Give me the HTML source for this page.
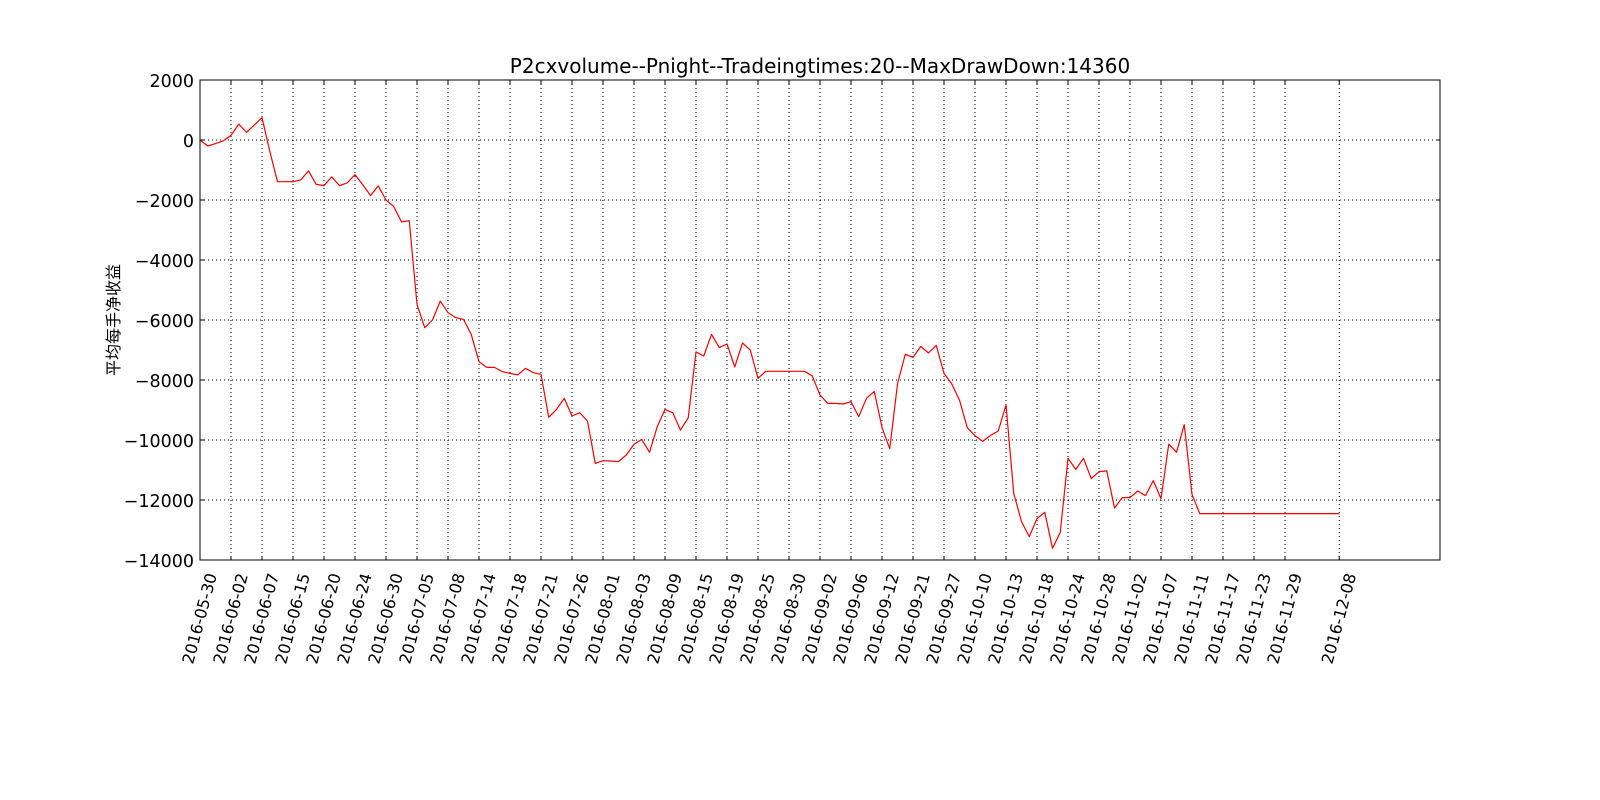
<!DOCTYPE html>
<html><head><meta charset="utf-8"><style>
html,body{margin:0;padding:0;background:#fff;}
svg{display:block;font-family:"DejaVu Sans","Liberation Sans","Noto Sans CJK SC",sans-serif;}
</style></head><body>
<svg id="chart" width="1600" height="800" viewBox="0 0 1600 800" xmlns="http://www.w3.org/2000/svg">
<rect width="1600" height="800" fill="#fff"/>
<g id="grid"></g>
<g id="series"></g>
<rect x="200" y="80" width="1240" height="480" fill="none" stroke="#000" stroke-width="1"/>
<g id="ticks"></g>
<text x="820" y="73" text-anchor="middle" font-size="20">P2cxvolume--Pnight--Tradeingtimes:20--MaxDrawDown:14360</text>
<text transform="translate(119,320) rotate(-90)" text-anchor="middle" font-size="16" font-family="'Noto Sans CJK SC',sans-serif">平均每手净收益</text>
</svg>
<script>
const values = [0,-200,-120,-30,155,530,255,500,745,-370,-1390,-1390,-1390,-1330,-1030,-1480,-1520,-1230,-1520,-1430,-1155,-1490,-1855,-1530,-2000,-2220,-2730,-2690,-5480,-6255,-6000,-5370,-5755,-5920,-5980,-6480,-7390,-7580,-7580,-7720,-7780,-7830,-7610,-7755,-7810,-9245,-8980,-8610,-9200,-9090,-9370,-10780,-10690,-10700,-10720,-10500,-10145,-9980,-10410,-9555,-8980,-9090,-9670,-9255,-7065,-7200,-6480,-6920,-6800,-7565,-6765,-7000,-7945,-7710,-7710,-7710,-7710,-7710,-7710,-7865,-8500,-8780,-8780,-8800,-8720,-9220,-8610,-8380,-9580,-10290,-8130,-7145,-7245,-6880,-7100,-6845,-7780,-8130,-8670,-9590,-9855,-10045,-9845,-9700,-8830,-11780,-12720,-13220,-12620,-12410,-13610,-13080,-10610,-10980,-10610,-11290,-11055,-11030,-12267,-11920,-11920,-11700,-11855,-11355,-11955,-10135,-10410,-9490,-11810,-12455,-12455,-12455,-12455,-12455,-12455,-12455,-12455,-12455,-12455,-12455,-12455,-12455,-12455,-12455,-12455,-12455,-12455,-12455];
const xTickIdx = [0,4,8,12,16,20,24,28,32,36,40,44,48,52,56,60,64,68,72,76,80,84,88,92,96,100,104,108,112,116,120,124,128,132,136,140,147];
const xTickLabels = ["2016-05-30","2016-06-02","2016-06-07","2016-06-15","2016-06-20","2016-06-24","2016-06-30","2016-07-05","2016-07-08","2016-07-14","2016-07-18","2016-07-21","2016-07-26","2016-08-01","2016-08-03","2016-08-09","2016-08-15","2016-08-19","2016-08-25","2016-08-30","2016-09-02","2016-09-06","2016-09-12","2016-09-21","2016-09-27","2016-10-10","2016-10-13","2016-10-18","2016-10-24","2016-10-28","2016-11-02","2016-11-07","2016-11-11","2016-11-17","2016-11-23","2016-11-29","2016-12-08"];
const yTicks = [2000,0,-2000,-4000,-6000,-8000,-10000,-12000,-14000];
const X0=200,X1=1440,Y0=80,Y1=560,XMIN=0,XMAX=160,YMIN=-14000,YMAX=2000;
function sx(i){return X0+(i-XMIN)/(XMAX-XMIN)*(X1-X0);}
function sy(v){return Y1-(v-YMIN)/(YMAX-YMIN)*(Y1-Y0);}
const NS="http://www.w3.org/2000/svg";
function mk(tag,attrs,parent){const e=document.createElementNS(NS,tag);for(const k in attrs)e.setAttribute(k,attrs[k]);parent.appendChild(e);return e;}
const grid=document.getElementById('grid'),ticks=document.getElementById('ticks'),series=document.getElementById('series');
xTickIdx.forEach((idx,k)=>{
  const x=sx(idx);
  const g=mk('line',{x1:x,y1:Y0,x2:x,y2:Y1,stroke:'#000','stroke-width':1,'stroke-dasharray':'1,3'},grid);
  
  
  const t1=mk('line',{x1:x,y1:Y1,x2:x,y2:Y1-4,stroke:'#000'},ticks);
  
  
  const t2=mk('line',{x1:x,y1:Y0,x2:x,y2:Y0+4,stroke:'#000'},ticks);
  
  
  const lb=mk('text',{transform:`translate(${x+17},${Y1+15}) rotate(-75)`,'text-anchor':'end','font-size':16},ticks);
  lb.textContent=xTickLabels[k];
  
  
});
yTicks.forEach(v=>{
  const y=sy(v);
  if(v!==YMAX&&v!==YMIN){
    const g=mk('line',{x1:X0,y1:y,x2:X1,y2:y,stroke:'#000','stroke-width':1,'stroke-dasharray':'1,3'},grid);
    
    
  }
  const t1=mk('line',{x1:X0,y1:y,x2:X0+4,y2:y,stroke:'#000'},ticks);
  
  
  const t2=mk('line',{x1:X1,y1:y,x2:X1-4,y2:y,stroke:'#000'},ticks);
  
  
  const lb=mk('text',{x:X0-6,y:y+7,'text-anchor':'end','font-size':17.5},ticks);
  lb.textContent=(v<0?'\u2212':'')+Math.abs(v);
  
  
});
const pts=values.map((v,i)=>sx(i).toFixed(2)+','+sy(v).toFixed(2)).join(' ');
const pl=mk('polyline',{points:pts,fill:'none',stroke:'#ff0000','stroke-width':1.2,'stroke-linejoin':'round'},series);


</script>
</body></html>
